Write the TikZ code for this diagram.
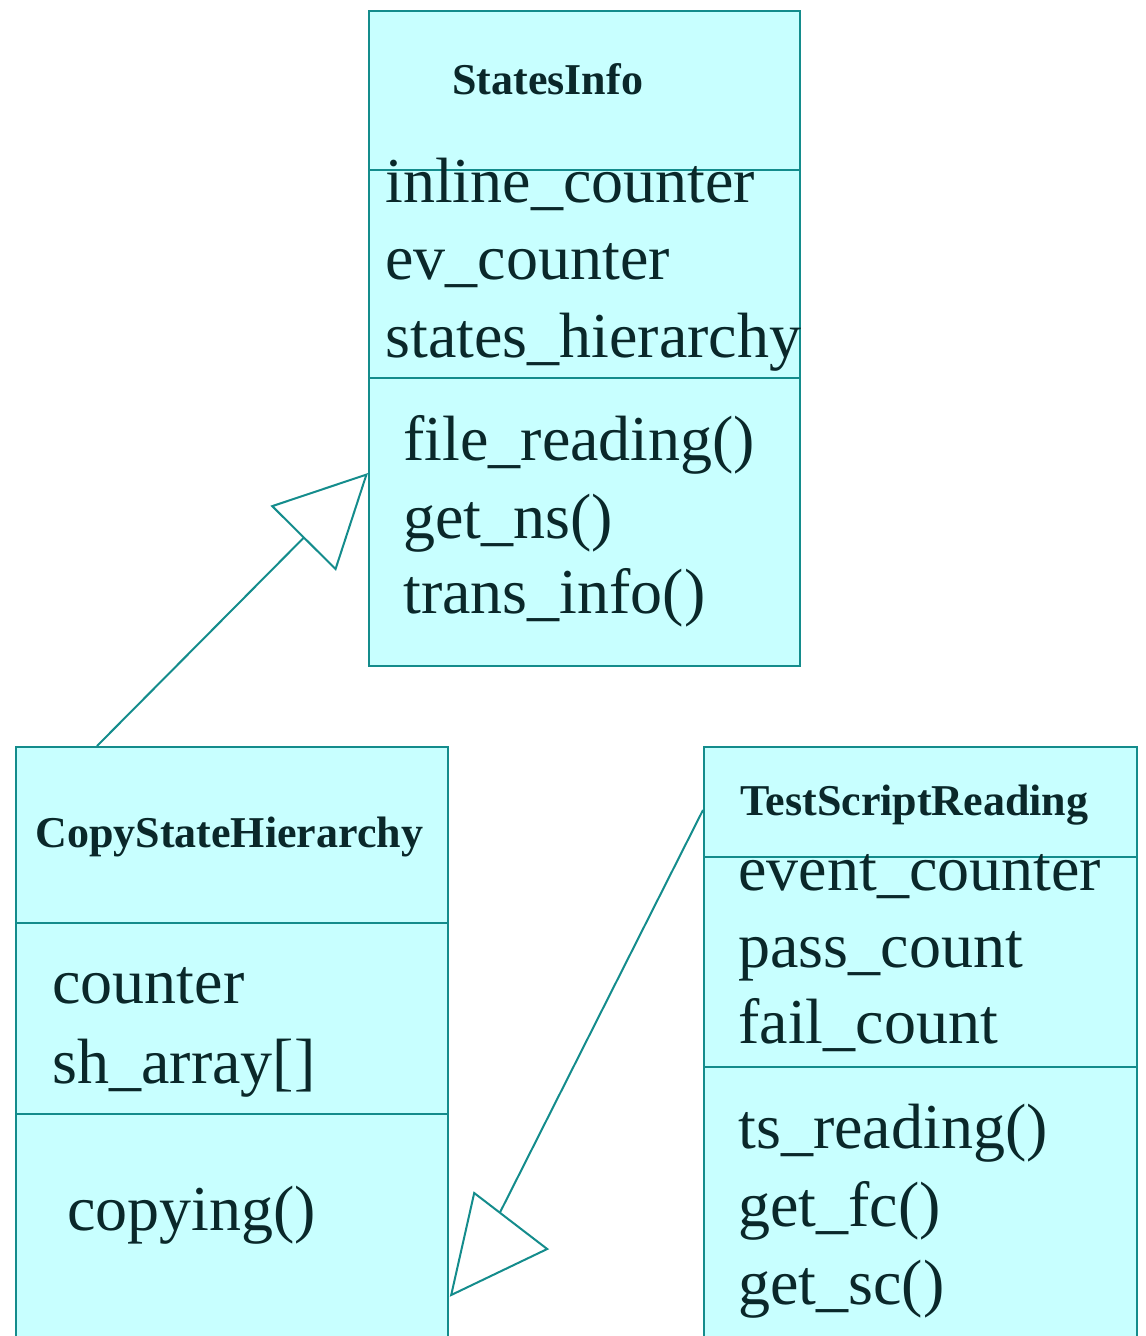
\documentclass[tikz,border=0pt]{standalone}
\usepackage{fontspec}
\setmainfont{Liberation Serif}
\usetikzlibrary{arrows.meta,calc}

\definecolor{boxfill}{RGB}{200,255,255}
\definecolor{boxline}{RGB}{20,140,140}
\definecolor{ink}{RGB}{10,40,42}

\tikzset{
  classbox/.style={draw=boxline, fill=boxfill, line width=1.1pt, inner sep=0pt,
    anchor=north west},
  divider/.style={draw=boxline, line width=1.1pt},
  classname/.style={anchor=base west, inner sep=0pt, text=ink,
    font=\fontsize{22}{26}\selectfont\bfseries},
  member/.style={anchor=base west, inner sep=0pt, text=ink,
    font=\fontsize{32}{38}\selectfont},
  inherits/.style={draw=boxline, line width=1pt,
    -{Triangle[length=46pt, width=46pt, fill=white]}},
  link/.style={draw=boxline, line width=1pt},
  openhead/.style={draw=boxline, fill=white, line width=1pt, line join=miter},
}

\begin{document}
\begin{tikzpicture}[x=0.5pt, y=-0.5pt]
  \useasboundingbox (0,0) rectangle (1145,1336);
  \clip (0,0) rectangle (1145,1336);

  % class StatesInfo
  \node[classbox, minimum width=215.5pt, minimum height=327.5pt] (si) at (368,10) {};
  \draw[divider] ($(si.north west)+(0,160)$) -- ($(si.north east)+(0,160)$);
  \draw[divider] ($(si.north west)+(0,368)$) -- ($(si.north east)+(0,368)$);
  \node[classname] (siName) at (452,95) {StatesInfo};
  \node[member] (siA1) at (385,203) {inline\_counter};
  \node[member] (siA2) at (385,280) {ev\_counter};
  \node[member] (siA3) at (385,358) {states\_hierarchy};
  \node[member] (siM1) at (403,460) {file\_reading()};
  \node[member] (siM2) at (403,538) {get\_ns()};
  \node[member] (siM3) at (403,613) {trans\_info()};

  % class CopyStateHierarchy
  \node[classbox, minimum width=216pt, minimum height=300pt] (csh) at (15,746) {};
  \draw[divider] ($(csh.north west)+(0,177)$) -- ($(csh.north east)+(0,177)$);
  \draw[divider] ($(csh.north west)+(0,368)$) -- ($(csh.north east)+(0,368)$);
  \node[classname] (cshName) at (35,847) {CopyStateHierarchy};
  \node[member] (cshA1) at (52,1003) {counter};
  \node[member] (cshA2) at (52,1083) {sh\_array[]};
  \node[member] (cshM1) at (67,1230) {copying()};

  % class TestScriptReading
  \node[classbox, minimum width=216.5pt, minimum height=300pt] (tsr) at (703,746) {};
  \draw[divider] ($(tsr.north west)+(0,111)$) -- ($(tsr.north east)+(0,111)$);
  \draw[divider] ($(tsr.north west)+(0,321)$) -- ($(tsr.north east)+(0,321)$);
  \node[classname] (tsrName) at (740,815) {TestScriptReading};
  \node[member] (tsrA1) at (738,890) {event\_counter};
  \node[member] (tsrA2) at (738,967) {pass\_count};
  \node[member] (tsrA3) at (738,1043) {fail\_count};
  \node[member] (tsrM1) at (738,1148) {ts\_reading()};
  \node[member] (tsrM2) at (738,1226) {get\_fc()};
  \node[member] (tsrM3) at (738,1304) {get\_sc()};

  % generalisation CopyStateHierarchy -> StatesInfo
  \coordinate (cshTop) at ($(csh.north west)+(82,0)$);
  \coordinate (siSide) at ($(si.north west)+(0,463)$);
  \draw[inherits] (cshTop) -- (siSide);

  % generalisation TestScriptReading -> CopyStateHierarchy (hollow head drawn as a triangle)
  \coordinate (tsrSide) at ($(tsr.north west)+(0,64)$);
  \coordinate (cshSide) at ($(csh.north east)+(2,549)$);
  \coordinate (headA) at ($(cshSide)+(23,-102)$);
  \coordinate (headB) at ($(cshSide)+(96,-46)$);
  \coordinate (headBase) at ($(cshSide)+(49,-83)$);
  \draw[link] (tsrSide) -- (headBase);
  \draw[openhead] (cshSide) -- (headA) -- (headB) -- cycle;
\end{tikzpicture}
\end{document}
